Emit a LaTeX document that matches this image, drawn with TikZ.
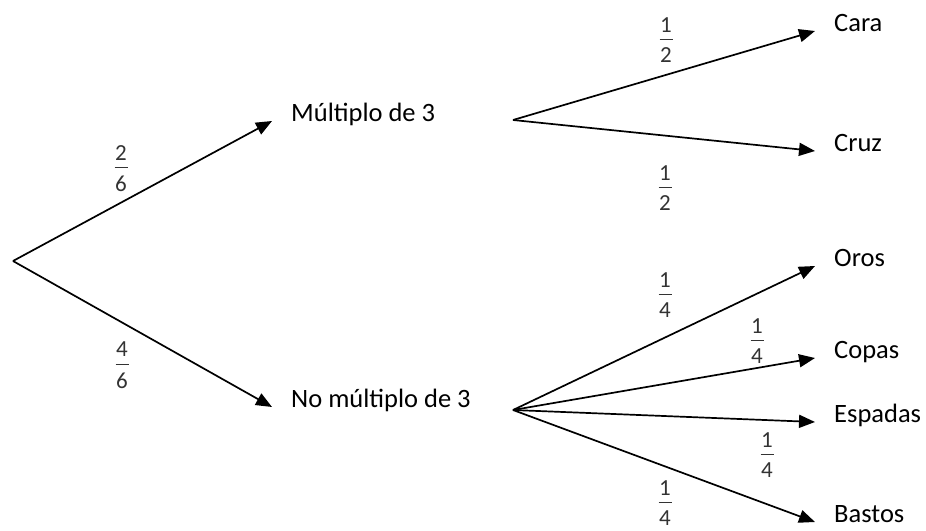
\documentclass[tikz,border=0pt]{standalone}
\usepackage{fontspec}
\setmainfont{Carlito}
\usetikzlibrary{arrows.meta}
\newcommand\fr[2]{\begin{tabular}{@{}c@{}}#1\\\rule[4pt]{13pt}{1pt}\\#2\end{tabular}}
\tikzset{
  br/.style={line width=1.7pt,-{Triangle[length=16pt,width=13pt]}},
  lab/.style={anchor=base west,inner xsep=19pt,inner ysep=0pt,font=\fontsize{26.5}{30}\selectfont},
  pr/.style={anchor=north,inner sep=0pt,font=\fontsize{23}{12}\selectfont,text=black!80}
}
\begin{document}
\begin{tikzpicture}[x=1pt,y=-1pt]
\useasboundingbox (0,0) rectangle (926,530);
\coordinate (r) at (13,261);
\coordinate (a) at (513,120);
\coordinate (b) at (513,410);
\node[lab] (m3) at (272,121) {Múltiplo de 3};
\node[lab] (n3) at (272,407) {No múltiplo de 3};
\node[lab] (cara) at (815,31) {Cara};
\node[lab] (cruz) at (815,151) {Cruz};
\node[lab] (oros) at (815,266) {Oros};
\node[lab] (copas) at (815,358) {Copas};
\node[lab] (esp) at (815,422) {Espadas};
\node[lab] (bas) at (815,522) {Bastos};
\draw[br] (r) -- (m3.base west);
\draw[br] (r) -- (n3.base west);
\draw[br] (a) -- (cara.base west);
\draw[br] (a) -- (cruz.base west);
\draw[br] (b) -- (oros.base west);
\draw[br] (b) -- (copas.base west);
\draw[br] (b) -- (esp.base west);
\draw[br] (b) -- (bas.base west);
\node[pr] (p1) at (121,145) {\fr{2}{6}};
\node[pr] (p2) at (122,342) {\fr{4}{6}};
\node[pr] (p3) at (666,17) {\fr{1}{2}};
\node[pr] (p4) at (665,165) {\fr{1}{2}};
\node[pr] (p5) at (665,272) {\fr{1}{4}};
\node[pr] (p6) at (757,318) {\fr{1}{4}};
\node[pr] (p7) at (767,432) {\fr{1}{4}};
\node[pr] (p8) at (665,480) {\fr{1}{4}};
\end{tikzpicture}
\end{document}
